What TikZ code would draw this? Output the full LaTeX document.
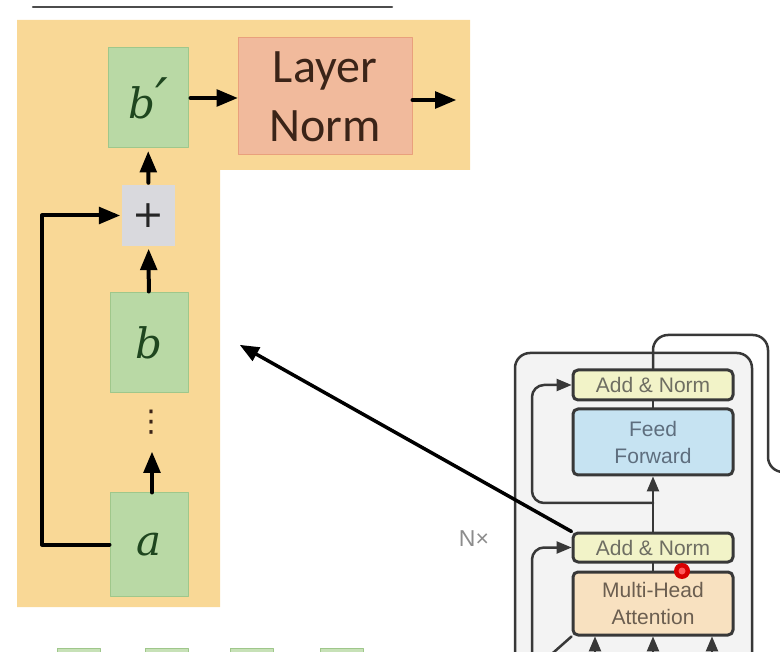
\documentclass[tikz,border=0pt]{standalone}
\usepackage{fontspec}
\usetikzlibrary{arrows}
\newfontfamily\normfont{Carlito}
\newfontfamily\paperfont{Liberation Sans}
\newfontfamily\symfont{DejaVu Sans}
\newfontfamily\vecfont{DejaVu Serif}
\definecolor{orangebg}{HTML}{F9D896}
\definecolor{greenfill}{HTML}{B9D9A5}
\definecolor{greenline}{HTML}{9FC78B}
\definecolor{greentext}{HTML}{1F461F}
\definecolor{lnfill}{HTML}{F1BA9C}
\definecolor{lnline}{HTML}{E9A07C}
\definecolor{lntext}{HTML}{3B2418}
\definecolor{plusfill}{HTML}{D9D9DD}
\definecolor{paperbg}{HTML}{F3F3F3}
\definecolor{paperline}{HTML}{383838}
\definecolor{addfill}{HTML}{F2F3C8}
\definecolor{fffill}{HTML}{C6E3F2}
\definecolor{mhafill}{HTML}{F8E1C0}
\definecolor{papertext}{HTML}{6E6E62}
\definecolor{fftext}{HTML}{5E6E7E}
\definecolor{mhatext}{HTML}{6B5E50}
\begin{document}
\begin{tikzpicture}[line cap=round,line join=round,>=triangle 45,x=1pt,y=-1pt,
    vec/.style={draw=greenline,fill=greenfill,line width=1pt,inner sep=0pt,minimum width=78pt,minimum height=100pt,text=greentext,font=\vecfont\itshape\fontsize{42}{42}\selectfont},
    flow/.style={->,line width=4pt,color=black},
    sublayer/.style={draw=paperline,line width=3pt,rounded corners=5pt,inner sep=0pt,minimum width=160pt,text=papertext,align=center,font=\paperfont\fontsize{21}{27}\selectfont},
    wire/.style={line width=2.5pt,color=paperline}]
    \useasboundingbox (0,0) rectangle (780,652);
    \clip (0,0) rectangle (780,652);
    % title underline
    \draw[line width=2.5pt,color=black!70] (33,7) -- (392,7);
    % residual block background
    \fill[orangebg] (17,20) -- (470,20) -- (470,170) -- (220,170) -- (220,607) -- (17,607) -- cycle;
    \node [vec,minimum width=80pt] (bprime) at (148,98) {b{\fontsize{56}{56}\selectfont ′}};
    \node [draw=lnline,fill=lnfill,line width=1pt,minimum width=174pt,minimum height=117pt,align=center,text=lntext,font=\normfont\fontsize{48}{59}\selectfont] (layernorm) at (325,96.5) {Layer\\Norm};
    \node [fill=plusfill,minimum width=53pt,minimum height=61pt,inner sep=0pt,text=black!85,font=\symfont\fontsize{38}{38}\selectfont] (plus) at (148.5,215.5) {+};
    \node [vec] (bvec) at (149,343) {b};
    \node [vec,minimum height=103pt] (avec) at (149,544.5) {a};
    \node [text=lntext,font=\symfont\fontsize{30}{30}\selectfont] (dots) at (151,422) {⋮};
    \coordinate (dotsin) at (152,452);
    \coordinate (lnout) at (456,100);
    \coordinate (skip) at (42,380);
    \draw[flow,shorten <=2pt] (bprime) -- (layernorm.west |- bprime);
    \draw[flow] (layernorm.east |- lnout) -- (lnout);
    \draw[flow,shorten <=2pt,shorten >=3pt] (plus) -- (bprime);
    \draw[flow,shorten <=1pt,shorten >=3pt] (bvec) -- (plus);
    \draw[flow] (avec.north -| dotsin) -- (dotsin);
    \draw[flow,shorten >=2pt] (avec.west) -| (skip) |- (plus.west);
    % encoder block of the paper
    \filldraw[fill=paperbg,draw=paperline,line width=2.5pt,rounded corners=15pt] (515,700) -- (515,353) -- (752,353) -- (752,700);
    \node [text=black!45,font=\paperfont\fontsize{23}{23}\selectfont] (nx) at (474,539) {N×};
    \node [sublayer,fill=addfill,minimum height=30pt] (addtop) at (653,385) {Add \& Norm};
    \node [sublayer,fill=fffill,minimum height=66pt,text=fftext] (ff) at (653,442) {Feed\\Forward};
    \node [sublayer,fill=addfill,minimum height=29pt] (addbot) at (653,547.5) {Add \& Norm};
    \node [sublayer,fill=mhafill,minimum height=63pt,text=mhatext] (mha) at (653,603.5) {Multi-Head\\Attention};
    \coordinate (ffsplit) at (653,503);
    \coordinate (ffres) at (532,440);
    \coordinate (mhares) at (532,700);
    \coordinate (mhain) at (545,660);
    \coordinate (outtr) at (768,335);
    \coordinate (outend) at (800,472);
    \draw[wire,->] (addbot) -- (ff);
    \draw[wire] (ff) -- (addtop);
    \draw[wire] (mha) -- (addbot);
    \draw[wire,rounded corners=15pt] (addtop.north) |- (outtr) |- (outend);
    \draw[wire,->,rounded corners=12pt] (ffsplit) -| (ffres) |- (addtop.west);
    \draw[wire,->,rounded corners=12pt] (mhares) |- (addbot.west);
    \foreach \x in {595,653,712}
    \draw[wire,->] (\x,680) -- (\x,0 |- mha.south);
    \draw[wire] (mha.south west) -- (mhain);
    % pointer of the slide
    \node [circle,fill=red!85!black,minimum size=16pt,inner sep=0pt] (pointer) at (682,571) {};
    \fill[red!65] (pointer) circle (3.5);
    % link to the encoder
    \coordinate (bpoint) at (240,345);
    \draw[flow,line width=3.5pt] (addbot.north west) -- (bpoint);
    % next row of vectors
    \foreach \x in {57,145,230,320}
    \filldraw[fill=greenfill!80!white,draw=greenline,line width=1pt] (\x,648) rectangle ++(43,40);
\end{tikzpicture}
\end{document}
